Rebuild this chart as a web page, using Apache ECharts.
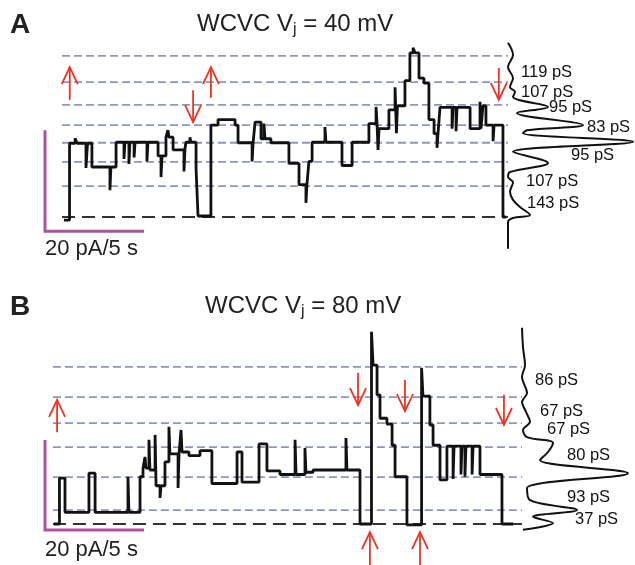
<!DOCTYPE html>
<html><head><meta charset="utf-8">
<script src="https://cdn.jsdelivr.net/npm/echarts/dist/echarts.min.js"></script>
<style>html,body{margin:0;padding:0;background:#fff}#c{width:635px;height:565px}</style>
</head><body><div id="c"></div>
<script>
// ---------- DATA ----------
const panelLabels = ['A', 'B'];
const titleA = ['WCVC V', 'j', ' = 40 mV'];
const titleB = ['WCVC V', 'j', ' = 80 mV'];
const scaleBar = { pA: 20, s: 5 };

// current levels (pA) marked by dashed lines; baseline = 0
const levelsA = [6.1, 10.9, 14.7, 18.2, 22.2, 26.7, 31.9];
const levelsB = [3.1, 10.4, 17.1, 22.4, 28.2, 34.9];
const baseline = 0;

// conductance labels next to the histograms
const condA = ['119 pS', '107 pS', '95 pS', '83 pS', '95 pS', '107 pS', '143 pS'];
const condB = ['86 pS', '67 pS', '67 pS', '80 pS', '93 pS', '37 pS'];

// single-channel traces: [time s, current pA] (value holds until next point)
const traceA = [[1.01,-0.6],[1.29,14.6],[1.57,15.6],[1.67,14.6],[2.12,9.7],[2.20,14.6],[2.42,9.9],[3.33,5.3],[3.38,9.9],[3.64,14.8],[4.04,11.5],[4.09,14.8],[4.29,10.5],[4.34,14.8],[4.55,11.8],[4.60,14.8],[5.20,11.0],[5.25,14.8],[5.76,12.1],[5.91,7.9],[5.96,12.1],[6.16,15.8],[6.26,17.2],[6.31,15.8],[6.52,13.3],[7.07,9.0],[7.12,13.5],[7.17,14.8],[7.37,15.8],[7.42,14.8],[7.68,9.5],[7.78,0.2],[8.43,18.2],[8.79,19.3],[9.65,18.2],[9.80,14.7],[10.51,11.0],[10.56,14.7],[10.66,18.8],[10.96,15.5],[11.11,18.5],[11.16,15.5],[11.46,14.7],[12.37,10.6],[12.88,6.4],[13.23,2.8],[13.28,6.4],[13.38,11.0],[13.54,14.8],[14.19,17.8],[14.24,14.8],[15.05,10.2],[15.56,14.8],[16.41,18.5],[16.77,21.8],[16.82,18.5],[16.87,13.3],[16.92,17.5],[17.42,21.2],[17.73,25.7],[17.80,16.6],[17.85,22.0],[18.23,27.0],[18.48,32.5],[18.64,33.5],[18.74,32.5],[18.94,27.5],[19.19,26.5],[19.44,19.3],[19.70,16.5],[19.85,13.7],[19.90,16.5],[20.00,21.7],[20.61,17.5],[20.66,21.7],[20.81,17.0],[20.86,21.7],[21.52,17.5],[22.02,22.8],[22.07,17.5],[22.17,22.0],[22.32,18.2],[22.68,15.0],[22.73,18.2],[23.18,0.0],[23.33,0.0]];
const traceB = [[0.51,0.0],[0.78,10.2],[1.06,2.6],[2.27,11.3],[2.58,2.6],[4.24,10.5],[4.29,2.6],[4.85,10.5],[5.00,12.4],[5.10,14.9],[5.15,12.4],[5.30,18.7],[5.35,12.0],[5.61,19.8],[5.66,8.5],[5.86,5.8],[5.91,8.5],[6.11,13.8],[6.31,21.6],[6.36,15.6],[6.77,8.0],[6.82,15.6],[6.92,20.9],[6.97,16.0],[7.32,15.2],[7.88,16.3],[8.48,9.0],[9.75,16.0],[10.00,9.3],[10.86,17.8],[11.26,11.8],[11.92,11.0],[12.68,18.7],[12.73,11.0],[13.18,16.9],[13.23,11.5],[13.59,12.0],[15.25,19.1],[15.30,12.0],[15.96,0.0],[16.54,42.7],[16.62,35.3],[16.82,28.7],[16.97,23.5],[17.32,22.2],[17.58,17.5],[17.73,10.5],[18.33,-0.2],[19.07,34.7],[19.14,28.4],[19.49,22.0],[19.65,17.5],[20.00,9.8],[20.35,17.3],[20.66,10.0],[20.71,17.3],[21.06,11.0],[21.11,17.3],[21.26,10.5],[21.31,17.3],[21.62,11.0],[21.67,17.3],[22.02,11.0],[23.13,0.0],[23.69,0.0]];

// all-points histograms: [count, current pA]
const histA = [[0,34.5],[5,32.1],[0,29.7],[5,27.5],[2,25.7],[7,24.8],[5,23.8],[40,21.8],[9,20.6],[75,18.2],[19,17.2],[15,16.6],[125,14.9],[5,12.9],[40,10.7],[2,8.9],[0,7.9],[5,6.9],[2,5.0],[5,3.4],[12,2.0],[22,0.4],[5,-0.2],[0,-1.0],[0,-6.3]];
const histB = [[0,43.6],[1,39.3],[3,35.3],[0,32.7],[5,29.1],[0,27.1],[4,24.9],[8,22.7],[1,20.9],[5,19.3],[31,18.0],[26,16.0],[18,14.2],[106,11.3],[5,8.0],[8,5.3],[55,3.1],[11,1.6],[31,0.2],[1,-1.3]];

// red arrows: [time s, tail pA, tip pA]
const arrowsA = [[1.30,23.2,29.7],[8.43,23.6,29.7],[7.53,25.1,18.8],[22.97,29.5,23.2]];
const arrowsB = [[0.66,20.4,27.6],[15.86,33.6,26.4],[18.23,32.0,25.1],[23.23,28.7,22.0],[16.46,-9.1,-1.8],[18.99,-9.1,-1.8]];

// ---------- LAYOUT ----------
const FONT = "'Liberation Sans', Arial, sans-serif";
const PX_PER_S = 19.8, PX_PER_PA_A = 5.05, PX_PER_PA_B = 4.5;
const TMAX = 24.5;
const yA = { min: -6.5, max: 36 }, yB = { min: -4, max: 44 };
const gridA = { left: 44, top: 35.2, width: TMAX * PX_PER_S, height: (yA.max - yA.min) * PX_PER_PA_A };
const gridB = { left: 44, top: 326, width: TMAX * PX_PER_S, height: (yB.max - yB.min) * PX_PER_PA_B };
const lineSpanA = [0.91, 23.43], lineSpanB = [0.45, 24.14];
const barA = { x: 0.05, bottom: -2.8 }, barB = { x: 0.05, bottom: -1.33 };
const condPosA = [[13,28.7],[13,24.75],[41,21.6],[79,17.8],[63,12.1],[18,7.1],[19,2.7]];
const condPosB = [[13,31.8],[18,25.1],[25,20.9],[45,15.3],[45,6.0],[53,0.9]];

const RED = '#ee3322', PURPLE = '#b0509f', BLUE = '#8f96bd';

function hiddenAxis(o) { return Object.assign({ type: 'value', show: false, splitLine: { show: false } }, o); }

function levelSeries(levels, span, xi, yi) {
  const out = levels.map(v => ({
    type: 'line', xAxisIndex: xi, yAxisIndex: yi, symbol: 'none', silent: true, z: 1,
    data: [[span[0], v], [span[1], v]],
    lineStyle: { color: BLUE, width: 1.8, type: [8, 4] }
  }));
  out.push({
    type: 'line', xAxisIndex: xi, yAxisIndex: yi, symbol: 'none', silent: true, z: 1,
    data: [[span[0], baseline], [span[1], baseline]],
    lineStyle: { color: '#333', width: 1.8, type: [13, 7] }
  });
  return out;
}
function traceSeries(data, xi, yi) {
  return { type: 'line', xAxisIndex: xi, yAxisIndex: yi, step: 'end', symbol: 'none', z: 3,
    data: data, lineStyle: { color: '#111', width: 2.8, join: 'bevel' } };
}
function barSeries(b, xi, yi) {
  return { type: 'line', xAxisIndex: xi, yAxisIndex: yi, symbol: 'none', z: 2,
    data: [[b.x, b.bottom + scaleBar.pA], [b.x, b.bottom], [b.x + scaleBar.s, b.bottom]],
    lineStyle: { color: PURPLE, width: 3, cap: 'butt', join: 'miter' } };
}
function histSeries(data, xi, yi) {
  return { type: 'line', xAxisIndex: xi, yAxisIndex: yi, symbol: 'none', smooth: 0.35, z: 3,
    data: data, lineStyle: { color: '#111', width: 2 } };
}
function labelSeries(texts, pos, xi, yi) {
  return { type: 'custom', xAxisIndex: xi, yAxisIndex: yi, z: 4, clip: false, silent: true,
    encode: { x: 0, y: 1 },
    data: pos.map((p, i) => [p[0], p[1], i]),
    renderItem: function (params, api) {
      const p = api.coord([api.value(0), api.value(1)]);
      return { type: 'text', x: p[0], y: p[1], style: {
        text: texts[api.value(2)], fill: '#111', font: '16.5px ' + FONT,
        textAlign: 'left', textVerticalAlign: 'middle' } };
    } };
}
function arrowSeries(data, xi, yi) {
  return { type: 'custom', xAxisIndex: xi, yAxisIndex: yi, z: 5, clip: false, silent: true,
    encode: { x: 0, y: [1, 2] }, data: data,
    renderItem: function (params, api) {
      const x = api.value(0);
      const p0 = api.coord([x, api.value(1)]), p1 = api.coord([x, api.value(2)]);
      const dir = p1[1] > p0[1] ? 1 : -1, h = 17, w = 8;
      return { type: 'group', children: [
        { type: 'line', shape: { x1: p0[0], y1: p0[1], x2: p1[0], y2: p1[1] }, style: { stroke: RED, lineWidth: 1.8 } },
        { type: 'polyline', shape: { points: [[p1[0] - w, p1[1] - dir * h], [p1[0], p1[1]], [p1[0] + w, p1[1] - dir * h]] },
          style: { stroke: RED, fill: null, lineWidth: 1.8 } }
      ] };
    } };
}
function titleText(parts, x, y) {
  return { type: 'text', x: x, y: y, style: {
    text: '{t|' + parts[0] + '}{s|' + parts[1] + '}{t|' + parts[2] + '}',
    textVerticalAlign: 'middle', textAlign: 'left',
    rich: { t: { fontSize: 24, fontFamily: FONT, fill: '#222', color: '#222', lineHeight: 28 },
            s: { fontSize: 16, fontFamily: FONT, fill: '#222', color: '#222', lineHeight: 14, verticalAlign: 'bottom' } }
  } };
}
function plainText(txt, x, y, font) {
  return { type: 'text', x: x, y: y, style: { text: txt, font: font, fill: '#222', textVerticalAlign: 'middle', textAlign: 'left' } };
}

const chart = echarts.init(document.getElementById('c'), null, { renderer: 'canvas' });
chart.setOption({
  animation: false,
  backgroundColor: '#fff',
  grid: [
    Object.assign({}, gridA),
    { left: 508, top: gridA.top, width: 127, height: gridA.height },
    Object.assign({}, gridB),
    { left: 522, top: gridB.top, width: 113, height: gridB.height }
  ],
  xAxis: [
    hiddenAxis({ gridIndex: 0, min: 0, max: TMAX }),
    hiddenAxis({ gridIndex: 1, min: 0, max: 127 }),
    hiddenAxis({ gridIndex: 2, min: 0, max: TMAX }),
    hiddenAxis({ gridIndex: 3, min: 0, max: 113 })
  ],
  yAxis: [
    hiddenAxis({ gridIndex: 0, min: yA.min, max: yA.max }),
    hiddenAxis({ gridIndex: 1, min: yA.min, max: yA.max }),
    hiddenAxis({ gridIndex: 2, min: yB.min, max: yB.max }),
    hiddenAxis({ gridIndex: 3, min: yB.min, max: yB.max })
  ],
  series: [].concat(
    levelSeries(levelsA, lineSpanA, 0, 0),
    levelSeries(levelsB, lineSpanB, 2, 2),
    [traceSeries(traceA, 0, 0), traceSeries(traceB, 2, 2),
     barSeries(barA, 0, 0), barSeries(barB, 2, 2),
     histSeries(histA, 1, 1), histSeries(histB, 3, 3),
     labelSeries(condA, condPosA, 1, 1), labelSeries(condB, condPosB, 3, 3),
     arrowSeries(arrowsA, 0, 0), arrowSeries(arrowsB, 2, 2)]
  ),
  graphic: [
    plainText(panelLabels[0], 10, 25, 'bold 28px ' + FONT),
    plainText(panelLabels[1], 10, 307, 'bold 28px ' + FONT),
    titleText(titleA, 197, 24),
    titleText(titleB, 205, 306),
    plainText(scaleBar.pA + ' pA/' + scaleBar.s + ' s', 45, 249, '22px ' + FONT),
    plainText(scaleBar.pA + ' pA/' + scaleBar.s + ' s', 45, 550, '22px ' + FONT)
  ]
});
</script></body></html>
